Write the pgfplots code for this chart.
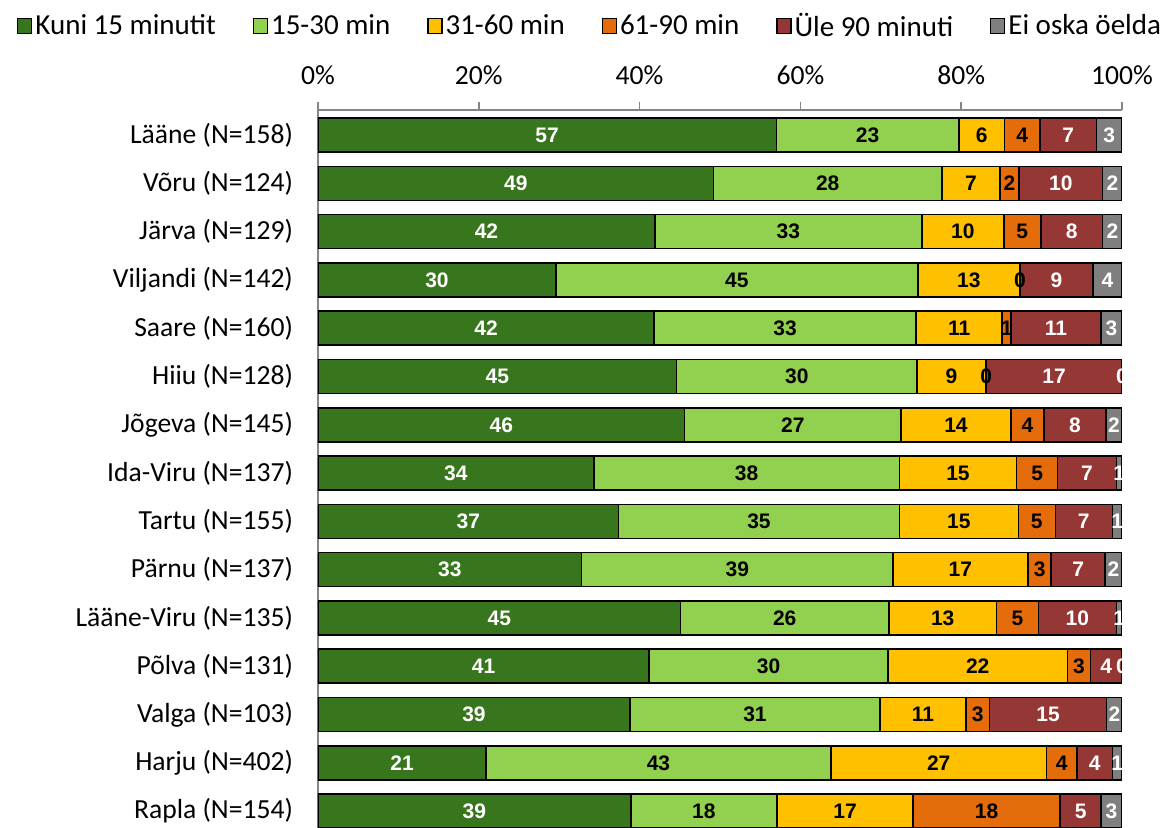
\documentclass[border=0pt]{standalone}
\usepackage{fontspec}
\setmainfont{Carlito}
\newfontfamily\barfont{Liberation Sans}
\usepackage{pgfplots}
\usepackage{pgfplotstable}
\pgfplotsset{compat=1.18}

\definecolor{c1}{HTML}{38761D}
\definecolor{c2}{HTML}{92D050}
\definecolor{c3}{HTML}{FFC000}
\definecolor{c4}{HTML}{E46C0A}
\definecolor{c5}{HTML}{953735}
\definecolor{c6}{HTML}{7F7F7F}
\definecolor{axisgray}{HTML}{868686}

% shares in %, top row (Lääne) has idx 14
\pgfplotstableread{
idx a b c d e f
14 57.0 22.7 5.7 4.4 7.0 3.2
13 49.2 28.4 7.2 2.4 10.4 2.4
12 41.9 33.2 10.2 4.6 7.7 2.4
11 29.6 45.0 12.7 0 9.1 3.6
10 41.8 32.6 10.7 1.1 11.2 2.6
9 44.6 29.9 8.6 0 16.9 0
8 45.6 26.9 13.7 4.1 7.7 2.0
7 34.3 38.0 14.6 5.1 7.3 0.7
6 37.4 34.9 14.8 4.6 7.1 1.2
5 32.8 38.7 16.8 2.9 6.7 2.1
4 45.1 25.9 13.4 5.2 9.7 0.7
3 41.2 29.7 22.3 2.9 3.9 0
2 38.8 31.1 10.7 2.9 14.6 1.9
1 20.9 42.9 26.8 3.8 4.4 1.2
0 38.9 18.2 16.9 18.3 5.1 2.6
}\traveldata

% middle of each segment, for the value labels
\pgfplotstablecreatecol[expr={\thisrow{a}/2}]{ma}{\traveldata}
\pgfplotstablecreatecol[expr={\thisrow{a}+\thisrow{b}/2}]{mb}{\traveldata}
\pgfplotstablecreatecol[expr={\thisrow{a}+\thisrow{b}+\thisrow{c}/2}]{mc}{\traveldata}
\pgfplotstablecreatecol[expr={\thisrow{a}+\thisrow{b}+\thisrow{c}+\thisrow{d}/2}]{md}{\traveldata}
\pgfplotstablecreatecol[expr={\thisrow{a}+\thisrow{b}+\thisrow{c}+\thisrow{d}+\thisrow{e}/2}]{me}{\traveldata}
\pgfplotstablecreatecol[expr={\thisrow{a}+\thisrow{b}+\thisrow{c}+\thisrow{d}+\thisrow{e}+\thisrow{f}/2}]{mf}{\traveldata}

\pgfplotsset{
  base/.style={
    at={(0pt,0pt)}, anchor=south west,
    scale only axis, width=402pt, height=359pt,
    xmin=0, xmax=100, ymin=-0.35, ymax=14.52,
  },
  lbl/.style={only marks, mark=none,
    every node near coord/.append style={text=#1}},
}

\begin{document}
\begin{tikzpicture}
\useasboundingbox (-159pt,0pt) rectangle (428pt,414pt);
% bars
\begin{axis}[
  base,
  xbar stacked, bar width=17pt,
  axis x line*=top, axis y line*=left,
  axis line style={color=axisgray, line width=0.8pt},
  xtick={0,20,...,100},
  xticklabel={\pgfmathprintnumber{\tick}\%},
  xticklabel style={yshift=5pt},
  yticklabel style={xshift=-5pt},
  tick align=outside, major tick length=4pt,
  x tick style={color=axisgray, line width=0.8pt},
  ytick={0,...,14}, y tick style={draw=none},
  yticklabels={Rapla (N=154), Harju (N=402), Valga (N=103), Põlva (N=131),
    Lääne-Viru (N=135), Pärnu (N=137), Tartu (N=155), Ida-Viru (N=137),
    Jõgeva (N=145), Hiiu (N=128), Saare (N=160), Viljandi (N=142),
    Järva (N=129), Võru (N=124), Lääne (N=158)},
  tick label style={font=\fontsize{13.8}{16}\selectfont},
  /pgf/number format/assume math mode=true,
  legend columns=6,
  legend style={at={(-0.382,1.117)}, anchor=west, draw=none,
    font=\fontsize{14.5}{17}\selectfont, nodes={inner xsep=1.5pt},
    /tikz/every even column/.append style={column sep=17pt}},
  legend image code/.code={\draw[#1, draw=black, line width=0.6pt]
    (0pt,-3.7pt) rectangle (7pt,3.7pt);},
]
\addplot[fill=c1, draw=black, line width=0.75pt] table[x=a, y=idx]{\traveldata};
\addplot[fill=c2, draw=black, line width=0.75pt] table[x=b, y=idx]{\traveldata};
\addplot[fill=c3, draw=black, line width=0.75pt] table[x=c, y=idx]{\traveldata};
\addplot[fill=c4, draw=black, line width=0.75pt] table[x=d, y=idx]{\traveldata};
\addplot[fill=c5, draw=black, line width=0.75pt] table[x=e, y=idx]{\traveldata};
\addplot[fill=c6, draw=black, line width=0.75pt] table[x=f, y=idx]{\traveldata};
\legend{Kuni 15 minutit, 15-30 min, 31-60 min, 61-90 min, Üle 90 minuti, Ei oska öelda}
\end{axis}
% value labels on top of all bars
\begin{axis}[
  base, hide axis, clip=false,
  /pgf/number format/assume math mode=true,
  point meta=explicit,
  nodes near coords={\pgfmathprintnumber[fixed,precision=0]{\pgfplotspointmeta}},
  every node near coord/.style={anchor=center,
    font=\barfont\bfseries\fontsize{10.5}{12}\selectfont},
]
\addplot[lbl=white] table[x=ma, y=idx, meta=a]{\traveldata};
\addplot[lbl=black] table[x=mb, y=idx, meta=b]{\traveldata};
\addplot[lbl=black] table[x=mc, y=idx, meta=c]{\traveldata};
\addplot[lbl=black] table[x=md, y=idx, meta=d]{\traveldata};
\addplot[lbl=white] table[x=me, y=idx, meta=e]{\traveldata};
\addplot[lbl=white] table[x=mf, y=idx, meta=f]{\traveldata};
\end{axis}
\end{tikzpicture}
\end{document}
